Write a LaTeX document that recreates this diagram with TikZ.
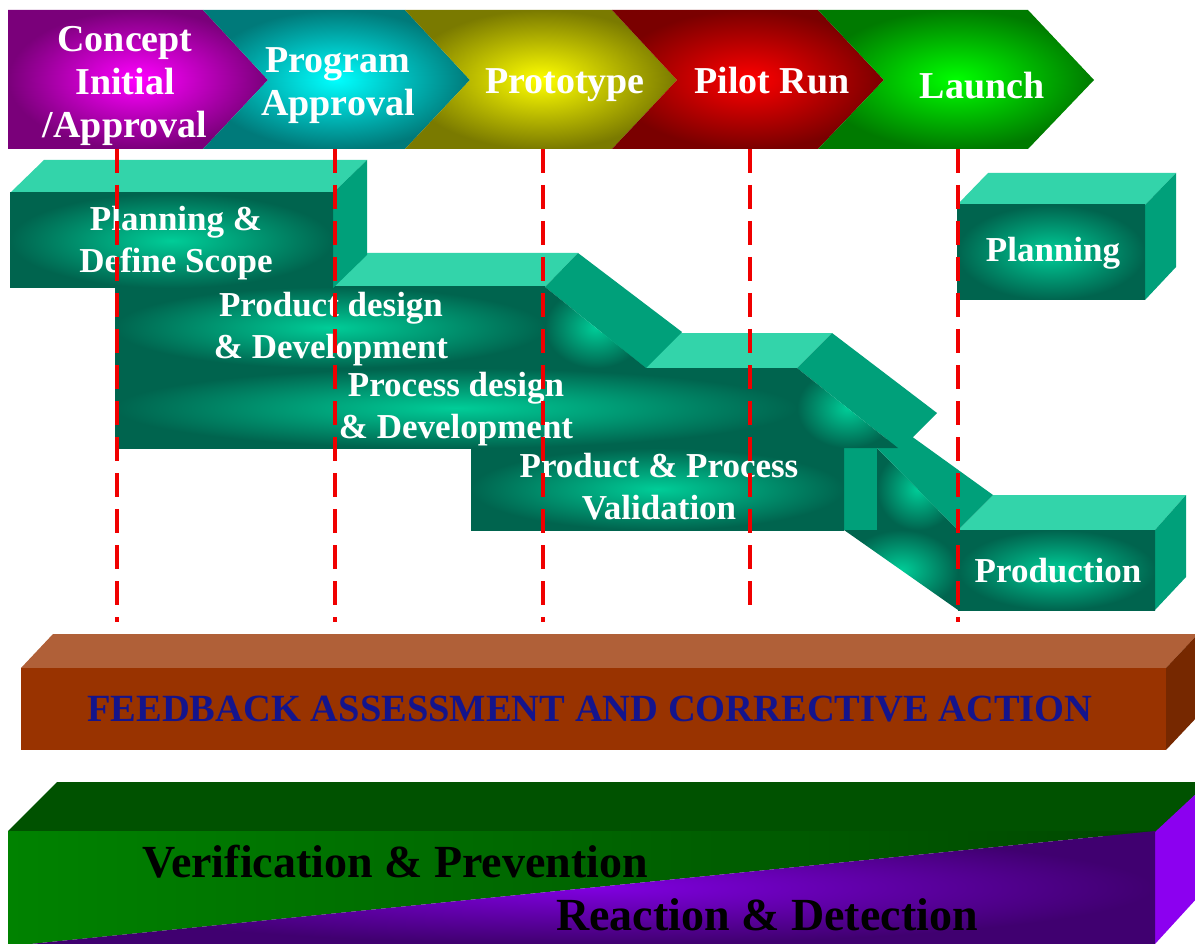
\documentclass[tikz,border=0pt]{standalone}
\usepackage{fontspec}
\setmainfont{Liberation Serif}
\definecolor{tealtop}{RGB}{51,212,170}
\definecolor{tealside}{RGB}{0,160,122}
\definecolor{teallight}{RGB}{0,205,152}
\definecolor{tealdark}{RGB}{0,100,78}
\definecolor{purL}{RGB}{255,0,255}
\definecolor{purD}{RGB}{122,0,122}
\definecolor{cyaL}{RGB}{0,255,255}
\definecolor{cyaD}{RGB}{0,122,122}
\definecolor{yelL}{RGB}{255,255,0}
\definecolor{yelD}{RGB}{122,122,0}
\definecolor{redL}{RGB}{255,0,0}
\definecolor{redD}{RGB}{122,0,0}
\definecolor{grnL}{RGB}{0,255,0}
\definecolor{grnD}{RGB}{0,122,0}
\definecolor{fbFront}{RGB}{153,51,0}
\definecolor{fbTop}{RGB}{176,96,56}
\definecolor{fbSide}{RGB}{118,40,0}
\definecolor{fbText}{RGB}{20,20,140}
\definecolor{vpTop}{RGB}{0,82,0}
\definecolor{vpL}{RGB}{0,130,0}
\definecolor{vpD}{RGB}{0,72,0}
\definecolor{rdL}{RGB}{128,0,224}
\definecolor{rdD}{RGB}{64,0,112}
\definecolor{rdSide}{RGB}{140,0,240}
\definecolor{dashred}{RGB}{240,0,0}
\begin{document}
\begin{tikzpicture}[x=1pt,y=-1pt,
  chevtxt/.style={text=white,font=\bfseries\fontsize{38}{43}\selectfont,align=center,inner sep=0pt},
  boxtxt/.style={text=white,font=\bfseries\fontsize{35}{42}\selectfont,align=center,inner sep=0pt},
  toptxt/.style={fill=tealtop},
  sidetxt/.style={fill=tealside},
  frontsh/.style={inner color=teallight,outer color=tealdark},
  dashln/.style={draw=dashred,line width=4.5pt,dash pattern=on 24pt off 12pt}]
\useasboundingbox (0,0) rectangle (1195,944);
\fill[white] (0,0) rectangle (1195,944);

% ---------- top chevron band ----------
\shade[inner color=purL,outer color=purD] (8,10)--(203,10)--(268,80)--(203,149)--(8,149)--cycle;
\shade[inner color=cyaL,outer color=cyaD] (203,10)--(405,10)--(470,80)--(405,149)--(203,149)--(268,80)--cycle;
\shade[inner color=yelL,outer color=yelD] (405,10)--(612,10)--(677,80)--(612,149)--(405,149)--(470,80)--cycle;
\shade[inner color=redL,outer color=redD] (612,10)--(818,10)--(884,80)--(818,149)--(612,149)--(677,80)--cycle;
\shade[inner color=grnL,outer color=grnD] (818,10)--(1028,10)--(1094,80)--(1028,149)--(818,149)--(884,80)--cycle;

\node[chevtxt] (c1) at (125,86) {Concept\\Initial\\/Approval};
\node[chevtxt] (c2) at (338,86) {Program\\Approval};
\node[chevtxt,anchor=base] (c3) at (565,94) {Prototype};
\node[chevtxt,anchor=base] (c4) at (772,94) {Pilot Run};
\node[chevtxt,anchor=base] (c5) at (982,99) {Launch};

% ---------- green staircase ----------
% Production
\fill[toptxt] (958,530)--(993,495)--(1186,495)--(1155,530)--cycle;
\fill[sidetxt] (1155,530)--(1186,495)--(1186,577)--(1155,610)--cycle;
\shade[frontsh] (958,530) rectangle (1155,610);
% ramp from validation to production
\fill[sidetxt] (844,448)--(877,448)--(877,530)--(844,530)--cycle;
\shade[frontsh] (844,530)--(958,530)--(958,610)--cycle;
\shade[frontsh] (877,448)--(958,530)--(877,530)--cycle;
\fill[sidetxt] (877,448)--(900,428)--(993,495)--(958,530)--cycle;
% Validation
\shade[frontsh] (471,448) rectangle (844,530);
% Process design
\fill[toptxt] (115,368)--(150,333)--(832,333)--(797,368)--cycle;
\shade[frontsh] (115,368) rectangle (797,448);
\fill[sidetxt] (797,368)--(832,333)--(937,413)--(913,437)--(898,448)--cycle;
\shade[frontsh] (797,368)--(898,448)--(797,448)--cycle;
% Product design
\fill[toptxt] (115,287)--(148,253)--(578,253)--(545,287)--cycle;
\shade[frontsh] (115,287) rectangle (545,368);
\fill[sidetxt] (545,287)--(578,253)--(682,332)--(646,368)--cycle;
\shade[frontsh] (545,287)--(646,368)--(545,368)--cycle;
% Planning & Define Scope
\fill[toptxt] (10,193)--(44,160)--(367,160)--(333,193)--cycle;
\fill[sidetxt] (333,193)--(367,160)--(367,255)--(333,288)--cycle;
\shade[frontsh] (10,193) rectangle (333,288);
% Planning (right)
\fill[toptxt] (957,205)--(988,173)--(1176,173)--(1145,205)--cycle;
\fill[sidetxt] (1145,205)--(1176,173)--(1176,267)--(1145,300)--cycle;
\shade[frontsh] (957,205) rectangle (1145,300);

\node[boxtxt] (b1) at (176,243) {Planning \&\\Define Scope};
\node[boxtxt] (b2) at (331,329) {Product design\\\& Development};
\node[boxtxt] (b3) at (456,409) {Process design\\\& Development};
\node[boxtxt] (b4) at (659,487) {Product \& Process\\Validation};
\node[boxtxt,anchor=base] (b5) at (1058,582) {Production};
\node[boxtxt,anchor=base] (b6) at (1053,262) {Planning};

% ---------- dashed milestone lines ----------
\coordinate (d1t) at (117,149); \coordinate (d1b) at (117,622);
\coordinate (d2t) at (335,149); \coordinate (d2b) at (335,622);
\coordinate (d3t) at (543,149); \coordinate (d3b) at (543,622);
\coordinate (d4t) at (750,149); \coordinate (d4b) at (750,612);
\coordinate (d5t) at (958,149); \coordinate (d5b) at (958,622);
\draw[dashln] (d1t) -- (d1b);
\draw[dashln] (d2t) -- (d2b);
\draw[dashln] (d3t) -- (d3b);
\draw[dashln] (d4t) -- (d4b);
\draw[dashln] (d5t) -- (d5b);

% ---------- feedback bar ----------
\fill[fbTop] (21,668)--(53,634)--(1198,634)--(1166,668)--cycle;
\fill[fbSide] (1166,668)--(1198,634)--(1198,716)--(1166,750)--cycle;
\fill[fbFront] (21,668) rectangle (1166,750);
\node[text=fbText,font=\bfseries\fontsize{38.5}{44}\selectfont,inner sep=0pt,anchor=base] (fb) at (590,721) {FEEDBACK ASSESSMENT AND CORRECTIVE ACTION};

% ---------- verification / reaction bar ----------
\fill[vpTop] (8,836)--(8,831)--(57,782)--(1198,782)--(1198,792)--(1155,836)--cycle;
\fill[rdSide] (1155,832)--(1198,792)--(1198,897)--(1155,944)--cycle;
\shade[left color=vpL,right color=vpD] (8,831)--(1155,831)--(30,944)--(8,944)--cycle;
\shade[inner color=rdL,outer color=rdD] (1155,831)--(1155,944)--(30,944)--cycle;
\node[text=black,font=\bfseries\fontsize{46}{50}\selectfont,inner sep=0pt,anchor=base] (vp) at (395,877) {Verification \& Prevention};
\node[text=black,font=\bfseries\fontsize{46}{50}\selectfont,inner sep=0pt,anchor=base] (rd) at (767,930) {Reaction \& Detection};
\end{tikzpicture}
\end{document}
